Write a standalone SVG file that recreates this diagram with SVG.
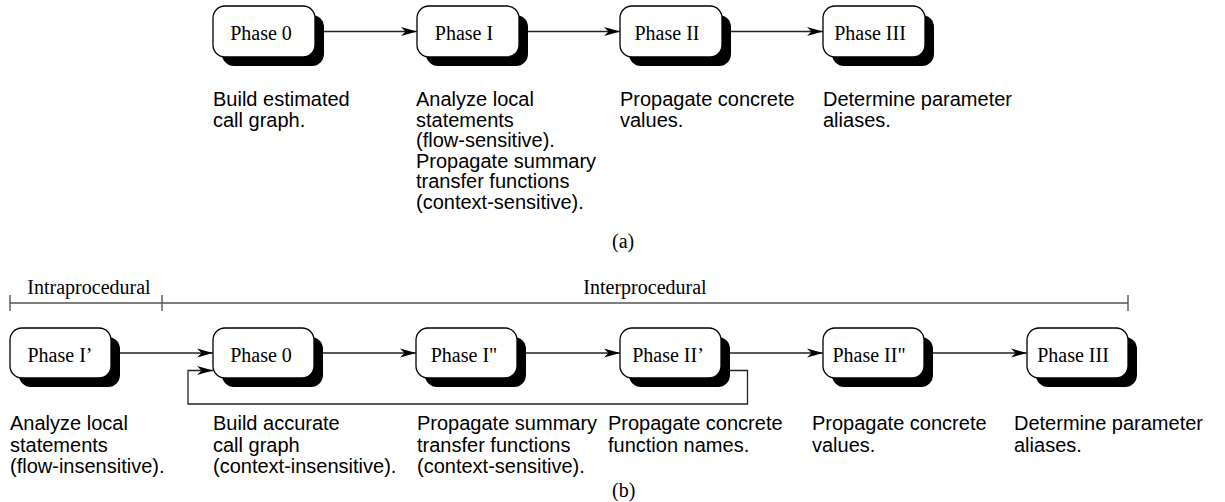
<svg xmlns="http://www.w3.org/2000/svg" width="1225" height="502" viewBox="0 0 1225 502">
  <style>
    .box { fill: #fff; stroke: #000; stroke-width: 1.3; }
    .shadow { fill: #000; }
    .lbl { font-family: "Liberation Serif", "Times New Roman", serif; font-size: 20px; fill: #000; text-anchor: middle; }
    .desc { font-family: "Liberation Sans", Arial, sans-serif; font-size: 20px; fill: #000; }
    .cap { font-family: "Liberation Serif", "Times New Roman", serif; font-size: 20px; fill: #000; }
    .edge { fill: none; stroke: #222; stroke-width: 1.3; }
    .span { fill: none; stroke: #555; stroke-width: 1.4; }
  </style>
  <defs>
    <marker id="arrow" viewBox="-17 -6 18 12" refX="0" refY="0" markerWidth="18" markerHeight="12" markerUnits="userSpaceOnUse" orient="auto">
      <path d="M0,0 L-16,-4.5 L-11.5,0 L-16,4.5 Z" fill="#000"/>
    </marker>
  </defs>

  <rect width="1225" height="502" fill="#fff"/>

  <!-- (a) upper pipeline -->
  <g id="a-phase0">
    <rect class="shadow" x="222" y="15" width="102" height="51" rx="12"/>
    <rect class="box" x="213" y="6" width="102" height="51" rx="12"/>
    <text class="lbl" x="261" y="39.5">Phase 0</text>
  </g>
  <g id="a-phase1">
    <rect class="shadow" x="426" y="15" width="102" height="51" rx="12"/>
    <rect class="box" x="417" y="6" width="102" height="51" rx="12"/>
    <text class="lbl" x="464" y="39.5">Phase I</text>
  </g>
  <g id="a-phase2">
    <rect class="shadow" x="629" y="15" width="102" height="51" rx="12"/>
    <rect class="box" x="620" y="6" width="102" height="51" rx="12"/>
    <text class="lbl" x="667" y="39.5">Phase II</text>
  </g>
  <g id="a-phase3">
    <rect class="shadow" x="832" y="15" width="102" height="51" rx="12"/>
    <rect class="box" x="823" y="6" width="102" height="51" rx="12"/>
    <text class="lbl" x="870" y="39.5">Phase III</text>
  </g>

  <g id="a-connectors">
    <line class="edge" x1="324" y1="31.5" x2="417" y2="31.5" marker-end="url(#arrow)"/>
    <line class="edge" x1="528" y1="31.5" x2="620" y2="31.5" marker-end="url(#arrow)"/>
    <line class="edge" x1="731" y1="31.5" x2="823" y2="31.5" marker-end="url(#arrow)"/>
  </g>

  <g id="a-notes" class="desc">
    <text x="213" y="106">Build estimated<tspan x="213" dy="20.5">call graph.</tspan></text>
    <text x="416" y="106">Analyze local<tspan x="416" dy="20.5">statements</tspan><tspan x="416" dy="20.5">(flow-sensitive).</tspan><tspan x="416" dy="20.5">Propagate summary</tspan><tspan x="416" dy="20.5">transfer functions</tspan><tspan x="416" dy="20.5">(context-sensitive).</tspan></text>
    <text x="620" y="106">Propagate concrete<tspan x="620" dy="20.5">values.</tspan></text>
    <text x="823" y="106">Determine parameter<tspan x="823" dy="20.5">aliases.</tspan></text>
  </g>
  <text class="cap" x="612" y="248">(a)</text>

  <!-- (b) lower pipeline -->
  <g id="b-span">
    <path class="span" d="M10,303 H1128 M10,295 V311 M162,295 V311 M1128,295 V311"/>
    <text class="cap" x="89" y="294" text-anchor="middle">Intraprocedural</text>
    <text class="cap" x="645" y="294" text-anchor="middle">Interprocedural</text>
  </g>

  <g id="b-phase1p">
    <rect class="shadow" x="19" y="337" width="101" height="50" rx="12"/>
    <rect class="box" x="10" y="328" width="101" height="50" rx="12"/>
    <text class="lbl" x="60" y="361.5">Phase I’</text>
  </g>
  <g id="b-phase0">
    <rect class="shadow" x="222" y="337" width="101" height="50" rx="12"/>
    <rect class="box" x="213" y="328" width="101" height="50" rx="12"/>
    <text class="lbl" x="261" y="361.5">Phase 0</text>
  </g>
  <g id="b-phase1pp">
    <rect class="shadow" x="425" y="337" width="101" height="50" rx="12"/>
    <rect class="box" x="416" y="328" width="101" height="50" rx="12"/>
    <text class="lbl" x="464" y="361.5">Phase I"</text>
  </g>
  <g id="b-phase2p">
    <rect class="shadow" x="629" y="337" width="101" height="50" rx="12"/>
    <rect class="box" x="620" y="328" width="101" height="50" rx="12"/>
    <text class="lbl" x="668" y="361.5">Phase II’</text>
  </g>
  <g id="b-phase2pp">
    <rect class="shadow" x="832" y="337" width="101" height="50" rx="12"/>
    <rect class="box" x="823" y="328" width="101" height="50" rx="12"/>
    <text class="lbl" x="869" y="361.5">Phase II"</text>
  </g>
  <g id="b-phase3">
    <rect class="shadow" x="1036" y="337" width="101" height="50" rx="12"/>
    <rect class="box" x="1027" y="328" width="101" height="50" rx="12"/>
    <text class="lbl" x="1073" y="361.5">Phase III</text>
  </g>

  <g id="b-connectors">
    <line class="edge" x1="120" y1="353" x2="213" y2="353" marker-end="url(#arrow)"/>
    <line class="edge" x1="323" y1="353" x2="416" y2="353" marker-end="url(#arrow)"/>
    <line class="edge" x1="526" y1="353" x2="620" y2="353" marker-end="url(#arrow)"/>
    <line class="edge" x1="730" y1="353" x2="823" y2="353" marker-end="url(#arrow)"/>
    <line class="edge" x1="933" y1="353" x2="1027" y2="353" marker-end="url(#arrow)"/>
    <!-- feedback loop from Phase II' back to Phase 0 -->
    <path class="edge" d="M730,370.5 H747.5 V404 H188 V370.5 H213" marker-end="url(#arrow)"/>
  </g>

  <g id="b-notes" class="desc">
    <text x="10" y="430">Analyze local<tspan x="10" dy="21.5">statements</tspan><tspan x="10" dy="21.5">(flow-insensitive).</tspan></text>
    <text x="213" y="430">Build accurate<tspan x="213" dy="21.5">call graph</tspan><tspan x="213" dy="21.5">(context-insensitive).</tspan></text>
    <text x="417" y="430">Propagate summary<tspan x="417" dy="21.5">transfer functions</tspan><tspan x="417" dy="21.5">(context-sensitive).</tspan></text>
    <text x="608" y="430">Propagate concrete<tspan x="608" dy="21.5">function names.</tspan></text>
    <text x="812" y="430">Propagate concrete<tspan x="812" dy="21.5">values.</tspan></text>
    <text x="1014" y="430">Determine parameter<tspan x="1014" dy="21.5">aliases.</tspan></text>
  </g>
  <text class="cap" x="612" y="497">(b)</text>
</svg>
